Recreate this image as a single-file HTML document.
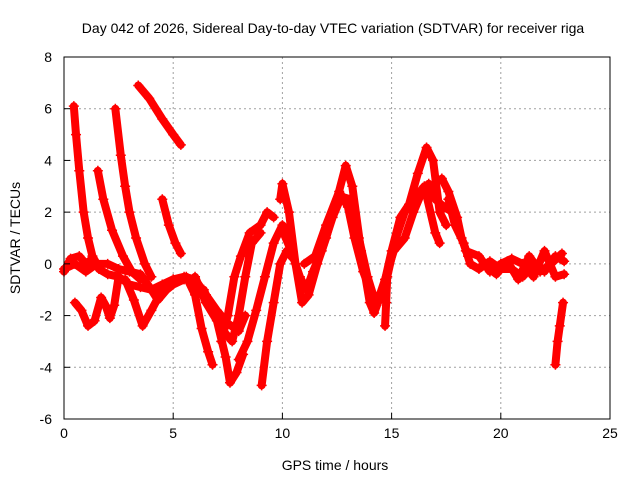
<!DOCTYPE html>
<html><head><meta charset="utf-8"><style>
html,body{margin:0;padding:0;background:#fff}
svg text{font-family:"Liberation Sans",sans-serif;fill:#000}
</style></head><body>
<svg id="chart" width="640" height="480" viewBox="0 0 640 480" xmlns="http://www.w3.org/2000/svg">
<rect width="640" height="480" fill="#fff"/>
<text x="333" y="33" font-size="14" text-anchor="middle">Day 042 of 2026, Sidereal Day-to-day VTEC variation (SDTVAR) for receiver riga</text>
<text x="335" y="470" font-size="14" text-anchor="middle">GPS time / hours</text>
<text transform="translate(20,238) rotate(-90)" font-size="14" text-anchor="middle">SDTVAR / TECUs</text>
<g id="grid"></g>
<g id="series"></g>
<rect x="64" y="57" width="546" height="362" fill="none" stroke="#000" stroke-width="1"/>
<g id="ticks"></g>
</svg>
<script>
const xTicks=[0,5,10,15,20,25];
const yTicks=[-6,-4,-2,0,2,4,6,8];
const trackA=[[0.45,6.1],[0.55,5.0],[0.7,3.6],[0.9,2.0],[1.1,1.0],[1.3,0.3],[1.5,0]];
const trackB=[[1.55,3.6],[1.8,2.5],[2.2,1.3],[2.7,0.3],[3.1,-0.3],[3.5,-0.6]];
const trackC=[[2.35,6.0],[2.6,4.2],[2.8,3.0],[3.0,2.0],[3.3,1.0],[3.7,0],[4.0,-0.5]];
const trackD=[[3.4,6.9],[3.9,6.4],[4.5,5.6],[5.0,5.0],[5.35,4.6]];
const trackE=[[4.5,2.5],[4.8,1.5],[5.1,0.8],[5.35,0.4]];
const base1=[[0,-0.3],[0.3,0.2],[0.7,0.3],[1,0],[1.3,0.2],[1.6,-0.2],[2,-0.4],[2.5,-0.5],[3,-0.8],[3.5,-0.9],[4,-1],[4.5,-0.8],[5,-0.6],[5.5,-0.5],[6,-0.6],[6.5,-1.2],[7,-1.8],[7.5,-2.3],[8,-2.6],[8.3,-2.0]];
const base2=[[0,-0.2],[0.5,0],[1,-0.3],[1.5,0],[2,0],[2.5,-0.2],[3,-0.3],[3.5,-0.4],[4,-1],[4.3,-1.4],[4.7,-1],[5,-0.8],[5.5,-0.6]];
const dip1=[[0.5,-1.5],[0.8,-1.8],[1.1,-2.4],[1.4,-2.2],[1.7,-1.3],[1.9,-1.6],[2.1,-2.1],[2.3,-1.6],[2.5,-0.5]];
const dip2=[[2.8,-0.6],[3.2,-1.4],[3.6,-2.4],[4,-1.8],[4.5,-1.0],[5,-0.6]];
const down1=[[5.6,-0.5],[6.0,-1.2],[6.3,-2.5],[6.6,-3.4],[6.8,-3.9]];
const down2=[[6.0,-0.5],[6.5,-1.5],[7.0,-2.2],[7.4,-3.6],[7.6,-4.6],[7.9,-4.2],[8.2,-3.5]];
const up1=[[7.2,-3.0],[7.5,-2.0],[7.8,-0.5],[8.1,0.3],[8.5,1.2],[9.0,1.5],[9.3,2.0],[9.6,1.8]];
const up2=[[8.0,-3.7],[8.4,-3.0],[8.8,-1.8],[9.2,-0.5],[9.6,0.8],[10.0,1.5],[10.3,1.2]];
const up3=[[9.05,-4.7],[9.3,-3.0],[9.6,-1.5],[9.9,0],[10.2,0.5],[10.5,0.2]];
const up4=[[6.4,-1.0],[6.9,-2.0],[7.3,-2.6],[7.7,-3.0],[8.0,-2.0],[8.3,-0.5],[8.6,0.8],[9.0,1.2]];
const wave1=[[9.9,2.5],[10.0,3.1],[10.3,2.0],[10.6,0],[10.9,-1.5],[11.2,-1.2],[11.6,0],[12.0,1.0],[12.5,2.5],[12.9,3.8],[13.2,3.0],[13.6,0.5],[14.0,-1.5],[14.2,-1.9],[14.6,-1.0],[15.0,0.5],[15.4,1.8],[15.8,2.3],[16.2,3.5],[16.6,4.5],[16.9,4.0],[17.2,2.0],[17.5,1.5]];
const wave2=[[10.0,1.3],[10.4,0.5],[10.8,-0.5],[11.1,-1.0],[11.4,-0.3],[11.8,0.5],[12.3,1.8],[12.7,2.6],[13.1,2.5],[13.5,1.0],[13.9,-0.5],[14.3,-1.6],[14.7,-0.6],[15.1,0.5],[15.6,1.0],[16.0,2.0],[16.4,2.8],[16.7,3.1],[17.0,2.5],[17.4,2.2],[17.8,2.0],[18.2,1.0],[18.5,0.3]];
const wave3=[[11.0,0],[11.5,0.3],[12.0,1.5],[12.6,2.8],[13.0,2.2],[13.3,1.0],[13.7,-0.3],[14.1,-1.2]];
const wave4=[[14.7,-2.4],[14.75,-1.5],[14.8,-0.5],[15.2,1.0],[15.6,2.0],[16.0,2.5],[16.5,3.0],[17.0,1.2],[17.2,0.8]];
const wave5=[[17.3,3.3],[17.6,2.8],[18.0,1.8],[18.2,1.0]];
const tail1=[[17.6,2.5],[17.9,1.5],[18.3,0.8],[18.6,0],[19,-0.2],[19.5,0.1],[20,-0.2],[20.5,-0.2],[21,-0.5],[21.5,0],[22,-0.3],[22.5,0.3],[22.9,0.1]];
const tail2=[[18.4,0.5],[19,0.3],[19.5,-0.3],[20,0],[20.5,0.2],[21,0],[21.5,-0.5],[22,0.5],[22.5,-0.5],[22.9,-0.4]];
const tail4=[[19.2,0],[19.8,-0.4],[20.3,0.1],[20.8,-0.6],[21.3,0.3],[21.8,-0.3],[22.3,0],[22.8,0.4]];
const tail3=[[22.85,-1.5],[22.7,-2.4],[22.6,-3.0],[22.5,-3.9]];
const tracks=[trackA,trackB,trackC,trackD,trackE,base1,base2,dip1,dip2,down1,down2,up1,up2,up3,up4,wave1,wave2,wave3,wave4,wave5,tail1,tail2,tail4,tail3];
const X0=64,X1=610,Y0=419,Y1=57;
const xs=v=>X0+(v-0)/(25-0)*(X1-X0);
const ys=v=>Y0-(v+6)/(8+6)*(Y0-Y1);
const NS="http://www.w3.org/2000/svg";
const grid=document.getElementById('grid'),ticks=document.getElementById('ticks'),ser=document.getElementById('series');
function mk(tag,attrs,parent){const e=document.createElementNS(NS,tag);for(const k in attrs)e.setAttribute(k,attrs[k]);parent.appendChild(e);return e;}
xTicks.forEach(t=>{const x=xs(t);
 if(t>0&&t<25){const g=mk('line',{x1:x,x2:x,y1:Y0,y2:Y1,stroke:'#a0a0a0','stroke-dasharray':'2,3'},grid);
 
 }
 const tk=mk('line',{x1:x,x2:x,y1:Y0,y2:Y0-6,stroke:'#000'},ticks);
 
 
 const lb=mk('text',{x:x,y:Y0+19,'font-size':14,'text-anchor':'middle'},ticks);lb.textContent=t;
 
 });
yTicks.forEach(t=>{const y=ys(t);
 if(t>-6&&t<8){const g=mk('line',{x1:X0,x2:X1,y1:y,y2:y,stroke:'#a0a0a0','stroke-dasharray':'2,3'},grid);
 
 }
 const tk=mk('line',{x1:X0,x2:X0+6,y1:y,y2:y,stroke:'#000'},ticks);
 
 
 const lb=mk('text',{x:X0-12,y:y+5,'font-size':14,'text-anchor':'end'},ticks);lb.textContent=t;
 
 });
tracks.forEach((tr,i)=>{
 const pts=tr.map(p=>xs(p[0])+','+ys(p[1])).join(' ');
 const pl=mk('polyline',{points:pts,fill:'none',stroke:'#ff0000','stroke-width':8,'stroke-linejoin':'round','stroke-linecap':'round'},ser);
 
 
 tr.forEach(p=>{const cx=xs(p[0]),cy=ys(p[1]);
  const m=mk('path',{d:`M${cx-5},${cy}H${cx+5}M${cx},${cy-5}V${cy+5}`,stroke:'#ff0000','stroke-width':1.5},ser);
  
  });
});
</script>
</body></html>
